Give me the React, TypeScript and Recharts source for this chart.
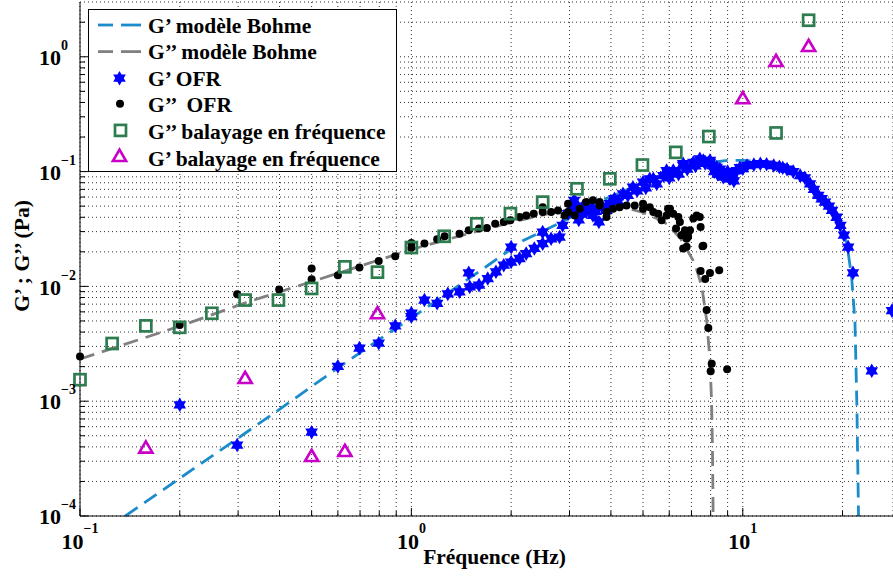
import { ComposedChart, Line, Scatter, XAxis, YAxis, CartesianGrid, Label } from 'recharts'

const W = 893
const H = 583
const X_DOMAIN = [0.1, 28.4]
const Y_DOMAIN = [1e-4, 3]

const xTicks = [0.1, 0.2, 0.3, 0.4, 0.5, 0.6, 0.7, 0.8, 0.9, 1, 2, 3, 4, 5, 6, 7, 8, 9, 10, 20]
const yTicks = [
  1e-4, 2e-4, 3e-4, 4e-4, 5e-4, 6e-4, 7e-4, 8e-4, 9e-4,
  1e-3, 2e-3, 3e-3, 4e-3, 5e-3, 6e-3, 7e-3, 8e-3, 9e-3,
  1e-2, 2e-2, 3e-2, 4e-2, 5e-2, 6e-2, 7e-2, 8e-2, 9e-2,
  0.1, 0.2, 0.3, 0.4, 0.5, 0.6, 0.7, 0.8, 0.9, 1, 2,
]

// G' modèle Bohme
const gpModelFreq = [0.137, 0.2, 0.288, 0.4, 0.6, 0.8, 1.0, 1.3, 1.7, 2.17, 2.93, 3.7, 4.5, 5.2, 6, 7, 8, 9, 10, 11.3, 12.4, 13.6, 14.9, 16, 16.9, 17.7, 18.6, 19.7, 20.6, 21.3, 21.8, 22.1, 22.35]
const gpModelVal = [1e-4, 2.13e-4, 4.4e-4, 8.5e-4, 1.95e-3, 3.45e-3, 5.3e-3, 8.9e-3, 0.0152, 0.025, 0.038, 0.055, 0.07, 0.084, 0.098, 0.112, 0.12, 0.125, 0.125, 0.122, 0.116, 0.107, 0.094, 0.079, 0.064, 0.055, 0.046, 0.034, 0.024, 0.0121, 5e-3, 9e-4, 1e-4]

// G'' modèle Bohme
const gsModelFreq = [0.1, 0.2, 0.316, 0.5, 0.7, 1, 1.5, 2, 2.5, 3, 3.5, 4, 4.5, 5, 5.5, 5.9, 6.5, 7.17, 7.52, 7.78, 7.96, 8.05, 8.1, 8.14]
const gsModelVal = [2.33e-3, 4.5e-3, 7.2e-3, 0.011, 0.015, 0.021, 0.029, 0.036, 0.042, 0.047, 0.05, 0.05, 0.048, 0.044, 0.039, 0.035, 0.026, 0.0158, 0.01, 5.1e-3, 2.3e-3, 1e-3, 4e-4, 1e-4]

// G' OFR
const gpOfrFreq = [
  0.2, 0.298, 0.5, 0.6, 0.697, 0.797, 0.894, 1.0, 1.0, 1.095, 1.196, 1.288, 1.397, 1.49, 1.5, 1.6, 1.7, 1.8, 1.9, 2.0,
  2.0, 2.12, 2.22, 2.35, 2.49, 2.49, 2.64, 2.8, 2.86, 2.97, 3.07, 3.1, 3.2, 3.22, 3.3, 3.37, 3.5, 3.53, 3.6, 3.68,
  3.75, 3.88, 3.97, 4.1, 4.2, 4.35, 4.5, 4.66, 4.8, 5.0, 5.1, 5.24, 5.37, 5.5, 5.76, 5.89, 6.0, 6.17, 6.4, 6.61,
  6.61, 6.8, 7.09, 7.2, 7.42, 7.6, 7.7, 7.96, 7.96, 8.1, 8.2, 8.34, 8.4, 8.53, 8.73, 8.9, 9.0, 9.15, 9.3, 9.4,
  9.59, 9.8, 10.0, 10.3, 10.8, 11.3, 11.8, 12.4, 12.9, 13.2, 13.6, 14.2, 14.9, 15.4, 15.96, 16.4, 16.9, 17.3, 17.7, 18.2,
  18.6, 19.2, 19.7, 20.2, 20.8, 21.5, 24.5, 28.2,
]
const gpOfrVal = [
  9.3e-4, 4.15e-4, 5.37e-4, 2.01e-3, 2.9e-3, 3.2e-3, 4.53e-3, 5.45e-3, 5.85e-3, 7.6e-3, 7.12e-3, 8.6e-3, 8.97e-3, 0.0131, 9.9e-3, 0.01025, 0.0117, 0.0134, 0.0153, 0.022,
  0.0163, 0.0175, 0.0193, 0.0214, 0.0297, 0.0236, 0.026, 0.0269, 0.034, 0.043, 0.049, 0.0562, 0.038, 0.043, 0.05, 0.0445, 0.048, 0.0415, 0.045, 0.0364,
  0.05, 0.0459, 0.0525, 0.058, 0.055, 0.064, 0.062, 0.073, 0.068, 0.0808, 0.072, 0.0865, 0.0865, 0.078, 0.0923, 0.102, 0.088, 0.102, 0.095, 0.113,
  0.117, 0.105, 0.12, 0.112, 0.129, 0.125, 0.118, 0.125, 0.12, 0.113, 0.1, 0.109, 0.095, 0.105, 0.0895, 0.092, 0.1, 0.0865, 0.095, 0.083,
  0.102, 0.108, 0.106, 0.113, 0.115, 0.117, 0.116, 0.113, 0.11, 0.108, 0.105, 0.1, 0.0923, 0.088, 0.0782, 0.07, 0.062, 0.058, 0.0542, 0.05,
  0.0459, 0.04, 0.034, 0.028, 0.022, 0.0131, 1.84e-3, 6.15e-3,
]

// G'' OFR
const gsOfrFreq = [
  0.1, 0.2, 0.298, 0.399, 0.5, 0.5, 0.6, 0.697, 0.797, 0.894, 1.0, 1.0, 1.095, 1.196, 1.26, 1.397, 1.49, 1.6, 1.69, 1.79,
  1.9, 1.99, 2.12, 2.22, 2.34, 2.49, 2.49, 2.64, 2.77, 2.9, 2.97, 2.97, 3.11, 3.22, 3.37, 3.53, 3.7, 3.7, 3.88, 3.88,
  4.06, 4.25, 4.46, 4.72, 5.0, 5.0, 5.24, 5.37, 5.56, 5.69, 5.89, 5.95, 6.03, 6.17, 6.29, 6.39, 6.46, 6.53, 6.69, 6.77,
  6.61, 6.77, 6.84, 6.93, 7.09, 7.26, 7.42, 7.46, 7.56, 7.6, 7.46, 7.7, 7.96, 8.49, 7.78, 7.87, 8.06, 8.0, 8.97,
]
const gsOfrVal = [
  2.45e-3, 4.6e-3, 8.53e-3, 9.4e-3, 0.0143, 0.01155, 0.0125, 0.0146, 0.0166, 0.0183, 0.0239, 0.0217, 0.0236, 0.0257, 0.0273, 0.0288, 0.0308, 0.0319, 0.0322, 0.0351,
  0.0364, 0.0376, 0.0402, 0.0415, 0.043, 0.049, 0.0445, 0.0445, 0.0459, 0.0415, 0.0525, 0.0445, 0.0415, 0.0474, 0.0542, 0.0562, 0.0542, 0.0507, 0.0445, 0.0402,
  0.0474, 0.049, 0.0507, 0.0507, 0.0525, 0.0474, 0.049, 0.0445, 0.043, 0.0376, 0.0415, 0.0474, 0.0474, 0.043, 0.0319, 0.0402, 0.0364, 0.0279, 0.0308, 0.026,
  0.0214, 0.0221, 0.027, 0.0308, 0.039, 0.0415, 0.0402, 0.0329, 0.0224, 0.0226, 0.0136, 0.0116, 0.0131, 0.0138, 6.22e-3, 4.33e-3, 2.12e-3, 1.82e-3, 1.9e-3,
]

// G'' balayage en fréquence
const gsSweepFreq = [0.1, 0.125, 0.158, 0.2, 0.25, 0.315, 0.397, 0.5, 0.63, 0.79, 1.0, 1.256, 1.575, 1.99, 2.49, 3.16, 3.97, 4.98, 6.28, 7.9, 12.6, 15.8]
const gsSweepVal = [1.54e-3, 3.18e-3, 4.53e-3, 4.4e-3, 5.83e-3, 7.6e-3, 7.6e-3, 9.6e-3, 0.0148, 0.0133, 0.0218, 0.0273, 0.0351, 0.043, 0.0542, 0.0708, 0.0865, 0.114, 0.147, 0.202, 0.217, 2.08]

// G' balayage en fréquence
const gpSweepFreq = [0.158, 0.315, 0.5, 0.63, 0.79, 10, 12.6, 15.8]
const gpSweepVal = [3.94e-4, 1.59e-3, 3.33e-4, 3.68e-4, 5.83e-3, 0.435, 0.918, 1.24]

const pts = (xs: number[], ys: number[]) => xs.map((x, i) => ({ x, y: ys[i] }))

const FONT = "'Liberation Serif', 'Times New Roman', serif"
const BLUE_LINE = '#1a8ccc'
const GRAY_LINE = '#808080'
const STAR = '#0000ff'
const GREEN = '#2e7d50'
const MAGENTA = '#c800c8'

const isDecade = (v: number) => Math.abs(Math.log10(v) - Math.round(Math.log10(v))) < 1e-6
const expText = (v: number) => {
  const e = Math.round(Math.log10(v))
  return e < 0 ? `\u2212${-e}` : `${e}`
}

function BottomTick({ x, y, payload }: any) {
  const v = payload.value
  const major = isDecade(v)
  return (
    <g>
      <line x1={x} x2={x} y1={y} y2={y - (major ? 8 : 5)} stroke="#000" />
      {major && (
        <text x={x} y={y + 32.7} textAnchor="middle" fontFamily={FONT} fontWeight="bold" fill="#000">
          <tspan fontSize={22}>10</tspan>
          <tspan fontSize={14} dy={-15.5}>{expText(v)}</tspan>
        </text>
      )}
    </g>
  )
}

function TopTick({ x, y, payload }: any) {
  const major = isDecade(payload.value)
  return <line x1={x} x2={x} y1={y} y2={y + (major ? 8 : 5)} stroke="#000" />
}

function LeftTick({ x, y, payload }: any) {
  const v = payload.value
  const major = isDecade(v)
  return (
    <g>
      <line x1={x} x2={x + (major ? 8 : 5)} y1={y} y2={y} stroke="#000" />
      {major && (
        <text x={39} y={y + 8.3} textAnchor="start" fontFamily={FONT} fontWeight="bold" fill="#000">
          <tspan fontSize={22}>10</tspan>
          <tspan fontSize={14} dy={-15}>{expText(v)}</tspan>
        </text>
      )}
    </g>
  )
}

function XTitle({ viewBox }: any) {
  const { x, y, width } = viewBox
  return (
    <text x={x + width / 2 + 8} y={y + 47.5} textAnchor="middle" fontFamily={FONT} fontWeight="bold" fontSize={21.5} fill="#000">
      Fréquence (Hz)
    </text>
  )
}

function YTitle({ viewBox }: any) {
  const { y, height } = viewBox
  const cx = 22
  const cy = y + height / 2 - 3
  return (
    <text x={cx} y={cy} transform={`rotate(-90, ${cx}, ${cy})`} textAnchor="middle" dominantBaseline="central"
      fontFamily={FONT} fontWeight="bold" fontSize={21.5} fill="#000">
      G’ ; G’’ (Pa)
    </text>
  )
}

function hexPoints(cx: number, cy: number, r: number, a0: number) {
  return [0, 1, 2].map((i) => {
    const a = ((a0 + i * 120) * Math.PI) / 180
    return `${cx + r * Math.cos(a)},${cy + r * Math.sin(a)}`
  }).join(' ')
}

function Hexagram({ cx, cy }: any) {
  if (cx == null || cy == null) return null
  return (
    <g>
      <polygon points={hexPoints(cx, cy, 7.3, -90)} fill={STAR} />
      <polygon points={hexPoints(cx, cy, 7.3, 90)} fill={STAR} />
    </g>
  )
}

function Dot({ cx, cy }: any) {
  if (cx == null || cy == null) return null
  return <circle cx={cx} cy={cy} r={4} fill="#000" />
}

function Square({ cx, cy }: any) {
  if (cx == null || cy == null) return null
  return <rect x={cx - 5.5} y={cy - 5.5} width={11} height={11} fill="none" stroke={GREEN} strokeWidth={2.7} />
}

function Triangle({ cx, cy }: any) {
  if (cx == null || cy == null) return null
  return <polygon points={`${cx},${cy - 6.3} ${cx + 6.6},${cy + 5} ${cx - 6.6},${cy + 5}`} fill="none" stroke={MAGENTA} strokeWidth={2.6} strokeLinejoin="miter" />
}

const legendRows = [
  'G’ modèle Bohme',
  'G’’ modèle Bohme',
  'G’ OFR',
  'G’’  OFR',
  'G’’ balayage en fréquence',
  'G’ balayage en fréquence',
]

function LegendBox() {
  const rowY = (i: number) => 25 + i * 26.6
  return (
    <svg width={W} height={H} style={{ position: 'absolute', left: 0, top: 0, pointerEvents: 'none' }}>
      <rect x={88.5} y={9.5} width={308} height={162} fill="#fff" stroke="#000" />
      {[BLUE_LINE, GRAY_LINE].map((c, i) => (
        <g key={c}>
          <line x1={98} x2={113} y1={rowY(i)} y2={rowY(i)} stroke={c} strokeWidth={2.8} />
          <line x1={121} x2={141} y1={rowY(i)} y2={rowY(i)} stroke={c} strokeWidth={2.8} />
        </g>
      ))}
      <Hexagram cx={119.5} cy={rowY(2)} />
      <Dot cx={120} cy={rowY(3) - 1} />
      <Square cx={120.5} cy={rowY(4) - 1} />
      <Triangle cx={119.5} cy={rowY(5) - 2} />
      {legendRows.map((t, i) => (
        <text key={t} x={148} y={rowY(i) + 7.5} fontFamily={FONT} fontWeight="bold" fontSize={21.5} fill="#000" style={{ whiteSpace: 'pre' }}>
          {t}
        </text>
      ))}
    </svg>
  )
}

export default function App() {
  return (
    <div style={{ position: 'absolute', left: 0, top: 0, width: W, height: H, background: '#fff' }}>
      <ComposedChart width={W} height={H} margin={{ top: 2, right: 0, bottom: 0, left: 0 }}>
        <CartesianGrid stroke="#333" strokeDasharray="1 3" />
        <XAxis
          xAxisId={0}
          dataKey="x"
          type="number"
          scale="log"
          domain={X_DOMAIN}
          ticks={xTicks}
          interval={0}
          height={67}
          tickSize={0}
          tickMargin={0}
          tickLine={false}
          axisLine={{ stroke: '#000' }}
          tick={<BottomTick />}
        >
          <Label content={<XTitle />} />
        </XAxis>
        <XAxis
          xAxisId="top"
          orientation="top"
          dataKey="x"
          type="number"
          scale="log"
          domain={X_DOMAIN}
          ticks={xTicks}
          interval={0}
          height={0}
          tickSize={0}
          tickMargin={0}
          tickLine={false}
          axisLine={{ stroke: '#000' }}
          tick={<TopTick />}
        />
        <YAxis
          dataKey="y"
          type="number"
          scale="log"
          domain={Y_DOMAIN}
          ticks={yTicks}
          interval={0}
          width={80}
          tickSize={0}
          tickMargin={0}
          tickLine={false}
          axisLine={{ stroke: '#000' }}
          tick={<LeftTick />}
        >
          <Label content={<YTitle />} />
        </YAxis>
        <Line data={pts(gpModelFreq, gpModelVal)} dataKey="y" stroke={BLUE_LINE} strokeWidth={2.8} strokeDasharray="15 8" dot={false} isAnimationActive={false} />
        <Line data={pts(gsModelFreq, gsModelVal)} dataKey="y" stroke={GRAY_LINE} strokeWidth={2.8} strokeDasharray="15 8" dot={false} isAnimationActive={false} />
        <Scatter data={pts(gpOfrFreq, gpOfrVal)} dataKey="y" shape={<Hexagram />} isAnimationActive={false} />
        <Scatter data={pts(gsOfrFreq, gsOfrVal)} dataKey="y" shape={<Dot />} isAnimationActive={false} />
        <Scatter data={pts(gsSweepFreq, gsSweepVal)} dataKey="y" shape={<Square />} isAnimationActive={false} />
        <Scatter data={pts(gpSweepFreq, gpSweepVal)} dataKey="y" shape={<Triangle />} isAnimationActive={false} />
      </ComposedChart>
      <LegendBox />
    </div>
  )
}
